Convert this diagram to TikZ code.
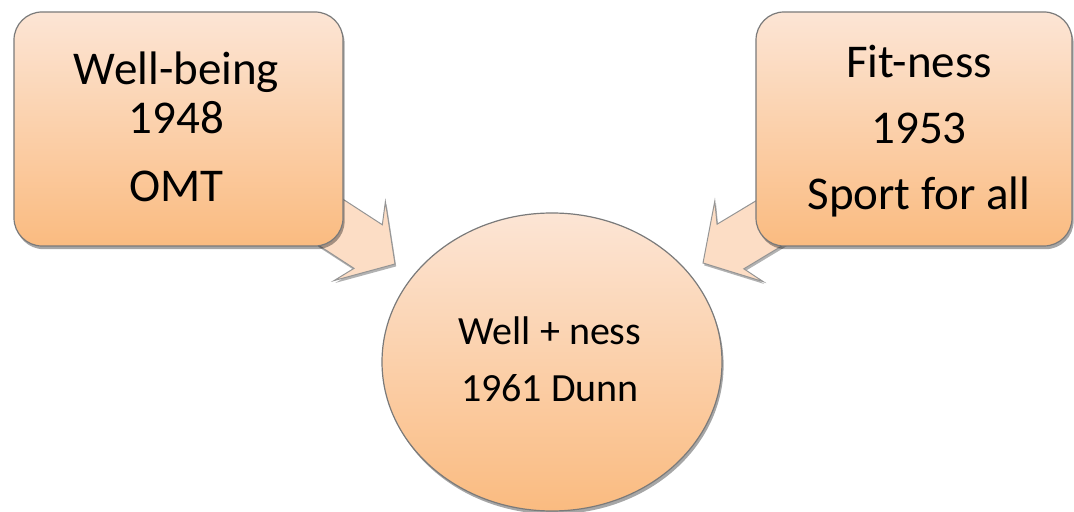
\documentclass[tikz,border=0pt]{standalone}
\usepackage{fontspec}
\setmainfont{Carlito}
\usepackage{tikz}
\definecolor{PeachTop}{HTML}{FCE5D5}
\definecolor{PeachBot}{HTML}{FABB80}
\definecolor{PeachArrow}{HTML}{FCDDC5}
\definecolor{EdgeGray}{HTML}{7A7A7A}
\usetikzlibrary{shadows,shapes.geometric,backgrounds,calc}

\tikzset{
  peachfill/.style={top color=PeachTop,bottom color=PeachBot,draw=EdgeGray,line width=0.6pt,
    drop shadow={shadow xshift=0.8pt,shadow yshift=-1.6pt,opacity=0.35,fill=black}},
  yearbox/.style={peachfill,rectangle,rounded corners=14pt,minimum height=117pt},
  dunnoval/.style={peachfill,ellipse,minimum width=170pt,minimum height=149pt},
  boxtext/.style={align=center,font=\fontsize{23.5}{24.5}\selectfont,inner sep=0pt},
  ovaltext/.style={align=center,font=\fontsize{20}{28.5}\selectfont,inner sep=0pt},
  blockarrow/.pic={
    \draw[fill=PeachArrow,draw=EdgeGray!80,line width=0.5pt,
      drop shadow={shadow xshift=0.6pt,shadow yshift=-1.2pt,opacity=0.3,fill=black}]
      (0,0) -- (-42,47) -- (-32,26) -- (-118,26) -- (-118,-26) -- (-32,-26) -- (-42,-47) -- cycle;
  }
}

\begin{document}
\begin{tikzpicture}[x=0.5pt,y=0.5pt]
  \useasboundingbox (0,0) rectangle (1074,512);

  % the three shapes
  \node[yearbox,minimum width=164.5pt] (wb) at (178.5,383) {};
  \node[yearbox,minimum width=158pt] (fit) at (914,383) {};
  \node[dunnoval] (dunn) at (552,150) {};

  % their texts
  \node[boxtext] (wbtxt) at ($(wb)+(-2,2)$) {Well-being\\1948\\[9.5pt]OMT};
  \node[boxtext,font=\fontsize{23.5}{33}\selectfont] (fittxt) at ($(fit)+(5,-2.5)$) {Fit-ness\\1953\\Sport for all};
  \node[ovaltext] (dunntxt) at ($(dunn)+(-2,3)$) {Well + ness\\1961 Dunn};

  % arrows, behind the boxes
  \coordinate (wbtip) at ($(dunn)+(-157,98)$);
  \coordinate (fittip) at ($(dunn)+(151,99)$);
  \begin{scope}[on background layer]
    \pic[rotate=-33] at (wbtip) {blockarrow};
    \pic[rotate=211] at (fittip) {blockarrow};
  \end{scope}
\end{tikzpicture}
\end{document}
